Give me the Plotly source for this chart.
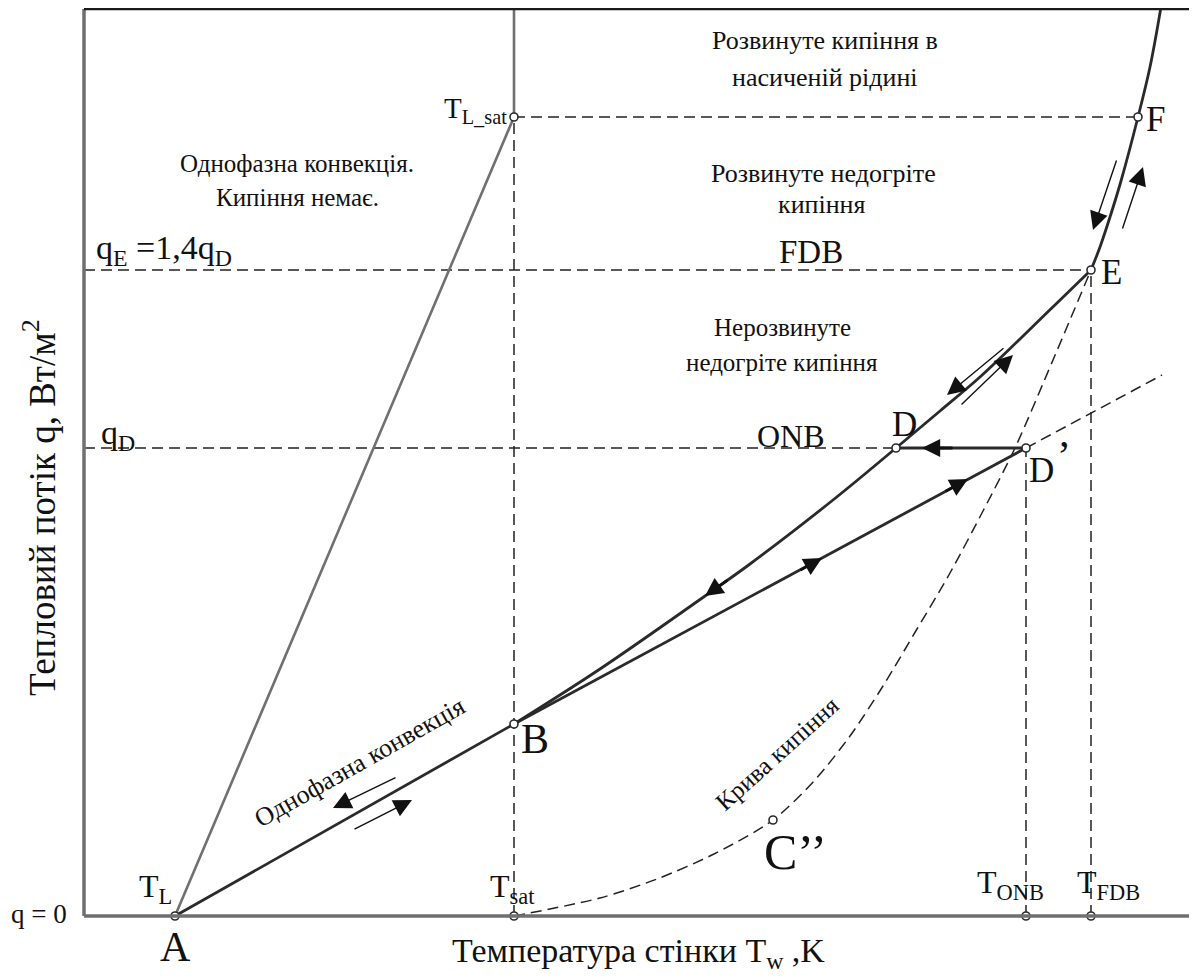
import plotly.graph_objects as go

# ---- schematic data (T in arbitrary units from left axis, q from bottom axis) ----
pt_names = ["A", "Tsat", "TONB", "TFDB", "B", "D", "Dp", "E", "F", "TLsat", "C2"]
pt_x = [91, 430, 942, 1007, 430, 812, 942, 1007, 1054, 430, 689]
pt_q = [0, 0, 0, 0, 192, 468, 468, 646, 799, 799, 96]

liq_x = [91, 430, 430]          # T_L -> T_L_sat -> up
liq_q = [0, 799, 908]

conv_x = [91, 430]              # A -> B
conv_q = [0, 192]

bd_x = [430, 516, 621, 666, 749, 812]      # B -> D
bd_q = [192, 247, 320, 352, 416, 468]

de_x = [812, 856, 896, 936, 972, 1007]     # D -> E
de_q = [468, 505, 539, 577, 612, 646]

ef_x = [1007, 1016, 1026, 1037, 1054, 1066, 1077]   # E -> F -> up
ef_q = [646, 669, 699, 735, 799, 849, 909]

bdp_x = [430, 942]              # B -> D'
bdp_q = [192, 468]
bdp_ext_x = [942, 1078]         # dashed extension beyond D'
bdp_ext_q = [468, 541]

dpd_x = [942, 812]              # D' -> D
dpd_q = [468, 468]

boil_x = [430, 516, 573, 630, 689, 730, 766, 799, 833, 866, 899, 931, 969, 1007]
boil_q = [0, 18, 37, 62, 96, 135, 180, 230, 287, 343, 405, 468, 556, 646]

# guide lines (x0, q0, x1, q1)
guides = [
    (430, 799, 1054, 799),
    (0, 646, 1007, 646),
    (0, 468, 812, 468),
    (430, 0, 430, 799),
    (942, 0, 942, 468),
    (1007, 0, 1007, 646),
]

X_MAX, Q_TOP = 1113, 907

FONT = "Liberation Serif, Times New Roman, serif"
DARK = "#2a2a2a"

fig = go.Figure()

# frame
fig.add_shape(type="line", x0=0, y0=0, x1=0, y1=Q_TOP, line=dict(color="#6f6f6f", width=3.5))
fig.add_shape(type="line", x0=0, y0=0, x1=X_MAX, y1=0, line=dict(color="#6f6f6f", width=3.5))
fig.add_shape(type="line", x0=0, y0=Q_TOP, x1=X_MAX, y1=Q_TOP, line=dict(color="#1a1a1a", width=2.5))

# dashed guides
for (x0, q0, x1, q1) in guides:
    fig.add_trace(go.Scatter(x=[x0, x1], y=[q0, q1], mode="lines",
                             line=dict(color="#222", width=1.5, dash="11px,6px"),
                             hoverinfo="skip", showlegend=False))

fig.add_trace(go.Scatter(x=boil_x, y=boil_q, mode="lines",
                         line=dict(color="#222", width=1.5, dash="11px,6px", shape="spline", smoothing=0.8),
                         showlegend=False))
fig.add_trace(go.Scatter(x=bdp_ext_x, y=bdp_ext_q, mode="lines",
                         line=dict(color="#222", width=1.5, dash="11px,6px"), showlegend=False))

# gray liquid line
fig.add_trace(go.Scatter(x=liq_x, y=liq_q, mode="lines",
                         line=dict(color="#707070", width=2.6), showlegend=False))

# main curves
for xs, qs, shp in [(conv_x, conv_q, "linear"), (bd_x, bd_q, "spline"), (de_x, de_q, "spline"),
                    (ef_x, ef_q, "spline"), (bdp_x, bdp_q, "linear"), (dpd_x, dpd_q, "linear")]:
    fig.add_trace(go.Scatter(x=xs, y=qs, mode="lines",
                             line=dict(color=DARK, width=2.8, shape=shp), showlegend=False))

# points
fig.add_trace(go.Scatter(x=pt_x, y=pt_q, mode="markers",
                         marker=dict(size=8, color="white", line=dict(color=DARK, width=1.6)),
                         showlegend=False))

# arrows: (tail_x, tail_q, head_x, head_q, width, size)
arrows = [
    (313, 139, 249, 108, 1.4, 2.6),
    (269, 86, 328, 116, 1.4, 2.6),
    (921, 569, 863, 521, 1.4, 2.6),
    (876, 510, 929, 561, 1.4, 2.6),
    (1033, 757, 1009, 686, 1.4, 2.6),
    (1038, 686, 1059, 749, 1.4, 2.6),
    (645, 337, 621, 320, 2.8, 1.3),
    (715, 345, 738, 358, 2.8, 1.3),
    (860, 424, 884, 437, 2.8, 1.3),
    (870, 468, 838, 468, 2.8, 1.3),
]
for tx, tq, hx, hq, w, s in arrows:
    fig.add_annotation(x=hx, y=hq, ax=tx, ay=tq, xref="x", yref="y", axref="x", ayref="y",
                       text="", showarrow=True, arrowhead=2, arrowsize=s, arrowwidth=w,
                       arrowcolor="#111", standoff=0, startstandoff=0)

def label(x, q, text, size, xanchor="center", yanchor="middle", angle=0):
    fig.add_annotation(x=x, y=q, xref="x", yref="y", text=text, showarrow=False,
                       xanchor=xanchor, yanchor=yanchor, textangle=angle, borderpad=0,
                       font=dict(family=FONT, size=size, color="#111"))

# region texts
label(213, 753, "Однофазна конвекція.", 25)
label(213, 719, "Кипіння немає.", 25)
label(741, 876, "Розвинуте кипіння в", 26)
label(741, 839, "насиченій рідині", 26)
label(739, 743, "Розвинуте недогріте", 26)
label(738, 712, "кипіння", 26)
label(727, 664, "FDB", 33)
label(698, 589, "Нерозвинуте", 25)
label(698, 554, "недогріте кипіння", 25)
label(707, 480, "ONB", 32)

# axis-side labels
label(11, 666, "q<sub>E</sub> =1,4q<sub>D</sub>", 34, xanchor="left")
label(16, 481, "q<sub>D</sub>", 34, xanchor="left")
label(-16, 2, "q = 0", 27, xanchor="right")

# point labels
label(71, 28, "T<sub>L</sub>", 32)
label(428, 28, "T<sub>sat</sub>", 32)
label(91, -31, "A", 42)
label(424, 806, "T<sub>L_sat</sub>", 29, xanchor="right")
label(451, 177, "B", 42)
label(820, 492, "D", 35)
label(957, 446, "D", 35)
label(980, 460, "’", 42)
label(1027, 644, "E", 35)
label(1071, 797, "F", 35)
label(711, 64, "C’’", 50)
label(926, 32, "T<sub>ONB</sub>", 32)
label(1024, 32, "T<sub>FDB</sub>", 32)

# rotated texts
label(275, 154, "Однофазна конвекція", 26, angle=-29.5)
label(693, 163, "Крива кипіння", 25, angle=-42)

# axis titles
label(-45, 408, "Тепловий потік q, Вт/м<sup>2</sup>", 37, angle=-90)
label(554, -37, "Температура стінки T<sub>w</sub> ,K", 34)

# the page adds an 8px body margin: shrink the figure and shift ranges to compensate
fig.update_layout(
    width=1189, height=972,
    margin=dict(l=0, r=0, t=0, b=0, pad=0),
    paper_bgcolor="white", plot_bgcolor="white",
    xaxis=dict(range=[-76, 1113], visible=False, fixedrange=True),
    yaxis=dict(range=[-64, 908], visible=False, fixedrange=True),
    showlegend=False,
)

fig.write_html("out.html")
